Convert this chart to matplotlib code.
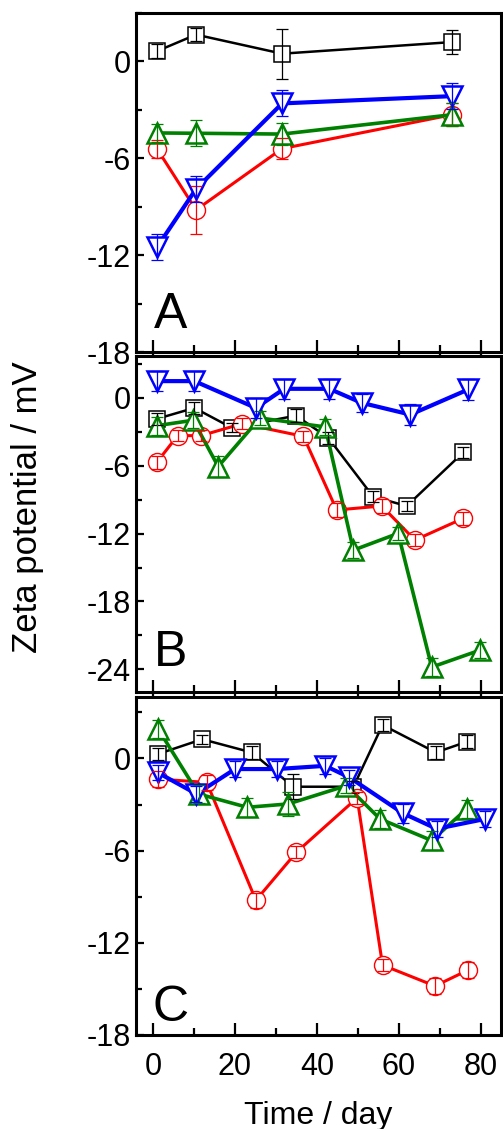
import matplotlib.pyplot as plt
from matplotlib.ticker import MultipleLocator

plt.rcParams['font.family'] = ['Liberation Sans', 'DejaVu Sans']

# Panel A
a_black_x = [1, 10.5, 31.5, 73]
a_black_y = [0.64, 1.66, 0.48, 1.2]
a_black_e = [0.45, 0.4, 1.55, 0.75]
a_red_x = [1, 10.5, 31.5, 73]
a_red_y = [-5.42, -9.2, -5.4, -3.3]
a_red_e = [0.55, 1.5, 0.65, 0.7]
a_green_x = [1, 10.5, 31.5, 73]
a_green_y = [-4.43, -4.45, -4.5, -3.3]
a_green_e = [0.55, 0.8, 0.7, 0.7]
a_blue_x = [1, 10.5, 31.5, 73]
a_blue_y = [-11.5, -7.9, -2.6, -2.15]
a_blue_e = [0.8, 0.8, 0.8, 0.8]

# Panel B
b_black_x = [0.9, 10.1, 19.3, 34.9, 42.8, 53.7, 61.9, 75.7]
b_black_y = [-1.86, -0.89, -2.66, -1.57, -3.55, -8.73, -9.56, -4.82]
b_black_e = [0.5, 0.5, 0.4, 0.6, 0.5, 0.5, 0.4, 0.5]
b_red_x = [0.9, 6.0, 11.7, 21.8, 36.7, 44.8, 55.8, 63.9, 75.7]
b_red_y = [-5.71, -3.34, -3.34, -2.28, -3.4, -9.91, -9.56, -12.57, -10.65]
b_red_e = [0.6, 0.5, 0.5, 0.5, 0.5, 0.6, 0.6, 0.5, 0.6]
b_green_x = [0.9, 9.8, 15.9, 26.1, 42.0, 48.9, 59.8, 68.0, 79.8]
b_green_y = [-2.46, -1.98, -6.07, -1.78, -2.57, -13.46, -11.98, -23.8, -22.3]
b_green_e = [0.8, 0.7, 0.9, 0.6, 0.7, 0.7, 0.6, 0.8, 0.7]
b_blue_x = [0.9, 10.1, 25.1, 32.0, 43.0, 50.9, 62.8, 76.9]
b_blue_y = [1.48, 1.48, -0.89, 0.8, 0.8, -0.44, -1.48, 0.74]
b_blue_e = [0.9, 0.9, 0.9, 0.9, 0.9, 0.8, 0.9, 0.9]

# Panel C
c_black_x = [1.1, 12.0, 24.1, 34.2, 48.9, 56.0, 69.0, 76.7]
c_black_y = [0.28, 1.25, 0.39, -1.84, -1.84, 2.18, 0.39, 1.1]
c_black_e = [0.4, 0.3, 0.4, 0.8, 0.4, 0.4, 0.4, 0.4]
c_red_x = [1.1, 13.1, 25.1, 35.0, 49.8, 56.0, 68.8, 76.9]
c_red_y = [-1.34, -1.56, -9.23, -6.1, -2.57, -13.45, -14.81, -13.77]
c_red_e = [0.5, 0.5, 0.5, 0.4, 0.4, 0.4, 0.5, 0.5]
c_green_x = [1.3, 11.1, 23.0, 33.0, 47.2, 55.4, 68.0, 76.5]
c_green_y = [1.9, -2.31, -3.18, -2.96, -1.77, -3.94, -5.34, -3.29]
c_green_e = [0.6, 0.6, 0.6, 0.8, 0.5, 0.6, 0.6, 0.6]
c_blue_x = [1.1, 10.6, 20.0, 30.2, 42.0, 47.9, 61.0, 69.2, 81.0]
c_blue_y = [-0.91, -2.31, -0.69, -0.69, -0.48, -1.23, -3.57, -4.58, -3.94]
c_blue_e = [0.5, 0.5, 0.5, 0.5, 0.5, 0.5, 0.6, 0.5, 0.5]

styles = {
    'black': dict(color='black', marker='s', ms=11, lw=1.8, mew=1.1),
    'red': dict(color='red', marker='o', ms=13, lw=2.2, mew=1.0),
    'green': dict(color='green', marker='^', ms=15, lw=2.6, mew=1.8),
    'blue': dict(color='blue', marker='v', ms=15, lw=3.0, mew=1.8),
}

W, H = 503, 1129
fig = plt.figure(figsize=(W / 100, H / 100), dpi=100)
left, right = 136 / W, 501 / W
boxes = [(13, 352), (356, 692), (697, 1035)]
ylims = [(-18, 3), (-26, 3.7), (-18, 4)]
yticks = [[-18, -12, -6, 0], [-24, -18, -12, -6, 0], [-18, -12, -6, 0]]
letters = ['A', 'B', 'C']
letter_pos = [(0.048, 0.072), (0.05, 0.078), (0.045, 0.04)]

panels = [
    [(a_black_x, a_black_y, a_black_e, 'black'), (a_red_x, a_red_y, a_red_e, 'red'),
     (a_green_x, a_green_y, a_green_e, 'green'), (a_blue_x, a_blue_y, a_blue_e, 'blue')],
    [(b_black_x, b_black_y, b_black_e, 'black'), (b_red_x, b_red_y, b_red_e, 'red'),
     (b_green_x, b_green_y, b_green_e, 'green'), (b_blue_x, b_blue_y, b_blue_e, 'blue')],
    [(c_black_x, c_black_y, c_black_e, 'black'), (c_red_x, c_red_y, c_red_e, 'red'),
     (c_green_x, c_green_y, c_green_e, 'green'), (c_blue_x, c_blue_y, c_blue_e, 'blue')],
]

for i, (top, bot) in enumerate(boxes):
    ax = fig.add_axes([left, 1 - bot / H, right - left, (bot - top) / H])
    for x, y, e, key in panels[i]:
        st = styles[key]
        ax.plot(x, y, color=st['color'], lw=st['lw'], marker=st['marker'],
                ms=st['ms'], mfc='white', mec=st['color'], mew=st['mew'], zorder=2)
        ax.errorbar(x, y, yerr=e, fmt='none', ecolor=st['color'], elinewidth=0.9,
                    capsize=4, capthick=0.9, zorder=3)
    ax.set_xlim(-4.15, 84.9)
    ax.set_ylim(*ylims[i])
    ax.set_yticks(yticks[i])
    ax.set_yticklabels([str(t) for t in yticks[i]])
    ax.yaxis.set_minor_locator(MultipleLocator(3))
    ax.xaxis.set_major_locator(MultipleLocator(20))
    ax.xaxis.set_minor_locator(MultipleLocator(10))
    for s in ax.spines.values():
        s.set_linewidth(2.2)
    ax.tick_params(axis='y', which='major', direction='in', length=6, width=1.6,
                   labelsize=22, pad=4)
    ax.tick_params(axis='y', which='minor', direction='in', length=4, width=1.6)
    if i < 2:
        ax.tick_params(axis='x', which='major', direction='inout', length=17,
                       width=1.6, labelbottom=False)
        ax.tick_params(axis='x', which='minor', direction='inout', length=10, width=1.6)
    else:
        ax.tick_params(axis='x', which='major', direction='in', length=9, width=1.6,
                       labelsize=22, pad=12)
        ax.tick_params(axis='x', which='minor', direction='in', length=5, width=1.6)
        ax.set_xlabel('Time / day', fontsize=23, labelpad=14)
    ax.text(letter_pos[i][0], letter_pos[i][1], letters[i], transform=ax.transAxes,
            fontsize=36, va='baseline', ha='left')

fig.text(28 / W, 1 - 507 / H, 'Zeta potential / mV', rotation=90, fontsize=25,
         ha='center', va='center')

fig.savefig('out.png', dpi=100)
